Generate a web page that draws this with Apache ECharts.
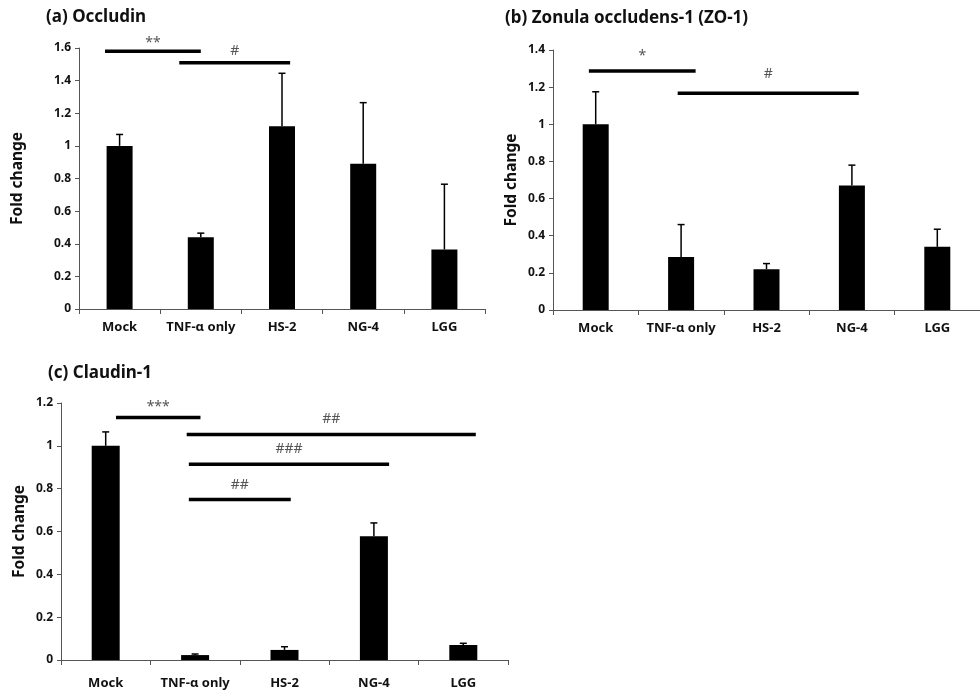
<!DOCTYPE html>
<html>
<head>
<meta charset="utf-8">
<script src="https://cdn.jsdelivr.net/npm/echarts@6/dist/echarts.min.js"></script>
<style>html,body{margin:0;padding:0;background:#fff}#c{width:980px;height:696px}</style>
</head>
<body>
<div id="c"></div>
<script>
const categories = ['Mock', 'TNF-α only', 'HS-2', 'NG-4', 'LGG'];

const occludinMean = [1.0, 0.44, 1.12, 0.89, 0.365];
const occludinErr  = [0.07, 0.025, 0.325, 0.375, 0.40];
const occludinSig  = [[-0.18, 1.0, 1.58, '**'], [0.735, 2.1, 1.51, '#']];

const zo1Mean = [1.0, 0.285, 0.22, 0.67, 0.34];
const zo1Err  = [0.175, 0.175, 0.03, 0.11, 0.095];
const zo1Sig  = [[-0.08, 1.17, 1.287, '*'], [0.96, 3.08, 1.167, '#']];

const claudinMean = [1.0, 0.023, 0.047, 0.578, 0.07];
const claudinErr  = [0.065, 0.005, 0.015, 0.062, 0.008];
const claudinSig  = [[0.115, 1.06, 1.132, '***'], [0.906, 4.14, 1.053, '##'], [0.93, 3.17, 0.914, '###'], [0.93, 2.07, 0.749, '##']];

const yMax = [1.6, 1.4, 1.2];
const titles = ['(a) Occludin', '(b) Zonula occludens-1 (ZO-1)', '(c) Claudin-1'];

const FONT = 'Noto Sans';
const panels = [
  {mean: occludinMean, err: occludinErr, sig: occludinSig, grid: {left: 79, top: 48, width: 406, height: 261}, barW: 26, nameGap: 53, labMargin: 12, sigGap: 12, title: {left: 46, top: 9}},
  {mean: zo1Mean, err: zo1Err, sig: zo1Sig, grid: {left: 553, top: 50, width: 427, height: 260}, barW: 26, nameGap: 33, labMargin: 12, sigGap: 19, title: {left: 505, top: 10}},
  {mean: claudinMean, err: claudinErr, sig: claudinSig, grid: {left: 61, top: 403, width: 447, height: 257}, barW: 28, nameGap: 33, labMargin: 17, sigGap: 15, title: {left: 48, top: 365}}
];

const option = {
  animation: false,
  backgroundColor: '#fff',
  textStyle: {fontFamily: FONT},
  title: panels.map((p, i) => ({
    text: titles[i], left: p.title.left, top: p.title.top, padding: 0,
    textStyle: {fontFamily: FONT, fontSize: 17, fontWeight: 'bold', color: '#111'}
  })),
  grid: panels.map(p => Object.assign({containLabel: false}, p.grid)),
  xAxis: [],
  yAxis: [],
  series: []
};

panels.forEach((p, i) => {
  option.xAxis.push({
    type: 'category', gridIndex: i, data: categories,
    axisLine: {onZero: false, lineStyle: {color: '#555', width: 1}},
    axisTick: {show: true, length: 5, lineStyle: {color: '#555'}},
    axisLabel: {margin: p.labMargin, fontFamily: FONT, fontSize: 13, fontWeight: 'bold', color: '#111', interval: 0}
  });
  option.yAxis.push({
    type: 'value', gridIndex: i, min: 0, max: yMax[i], interval: 0.2,
    name: 'Fold change', nameLocation: 'middle', nameRotate: 90, nameGap: p.nameGap,
    nameTextStyle: {fontFamily: FONT, fontSize: 15.5, fontWeight: 'bold', color: '#111'},
    splitLine: {show: false},
    axisLine: {show: true, onZero: false, lineStyle: {color: '#555', width: 1}},
    axisTick: {show: true, length: 4, lineStyle: {color: '#555'}},
    axisLabel: {margin: 8, fontFamily: FONT, fontSize: 12, fontWeight: 'bold', color: '#111'}
  });
});
// hidden value x-axes for significance lines
panels.forEach((p, i) => {
  option.xAxis.push({type: 'value', gridIndex: i, min: -0.5, max: 4.5, show: false, axisLine: {onZero: false}});
});

panels.forEach((p, i) => {
  option.series.push({
    type: 'bar', xAxisIndex: i, yAxisIndex: i, data: p.mean, barWidth: p.barW,
    itemStyle: {color: '#000'}
  });
  option.series.push({
    type: 'custom', xAxisIndex: i, yAxisIndex: i, clip: false, z: 5,
    data: p.mean.map((m, k) => [k, m, p.err[k]]),
    renderItem: function (params, api) {
      const x = api.value(0), m = api.value(1), e = api.value(2);
      const p0 = api.coord([x, m]);
      const p1 = api.coord([x, m + e]);
      return {type: 'group', children: [
        {type: 'line', shape: {x1: p0[0], y1: p0[1], x2: p1[0], y2: p1[1]}, style: {stroke: '#000', lineWidth: 1.5}},
        {type: 'line', shape: {x1: p1[0] - 3.5, y1: p1[1], x2: p1[0] + 3.5, y2: p1[1]}, style: {stroke: '#000', lineWidth: 1.5}}
      ]};
    }
  });
  option.series.push({
    type: 'custom', xAxisIndex: 3 + i, yAxisIndex: i, clip: false, z: 6,
    data: p.sig.map(s => [s[0], s[1], s[2]]),
    renderItem: function (params, api) {
      const a = api.coord([api.value(0), api.value(2)]);
      const b = api.coord([api.value(1), api.value(2)]);
      const label = p.sig[params.dataIndex][3];
      return {type: 'group', children: [
        {type: 'line', shape: {x1: a[0], y1: a[1], x2: b[0], y2: b[1]}, style: {stroke: '#000', lineWidth: 3.5}},
        {type: 'text', x: (a[0] + b[0]) / 2, y: a[1] - p.sigGap + (label.indexOf('*') >= 0 ? 4 : 0),
          style: {text: label, fontFamily: FONT, fontSize: 14, fill: '#555', align: 'center', verticalAlign: 'middle'}}
      ]};
    }
  });
});

const chart = echarts.init(document.getElementById('c'), null, {renderer: 'canvas'});
chart.setOption(option);
</script>
</body>
</html>
